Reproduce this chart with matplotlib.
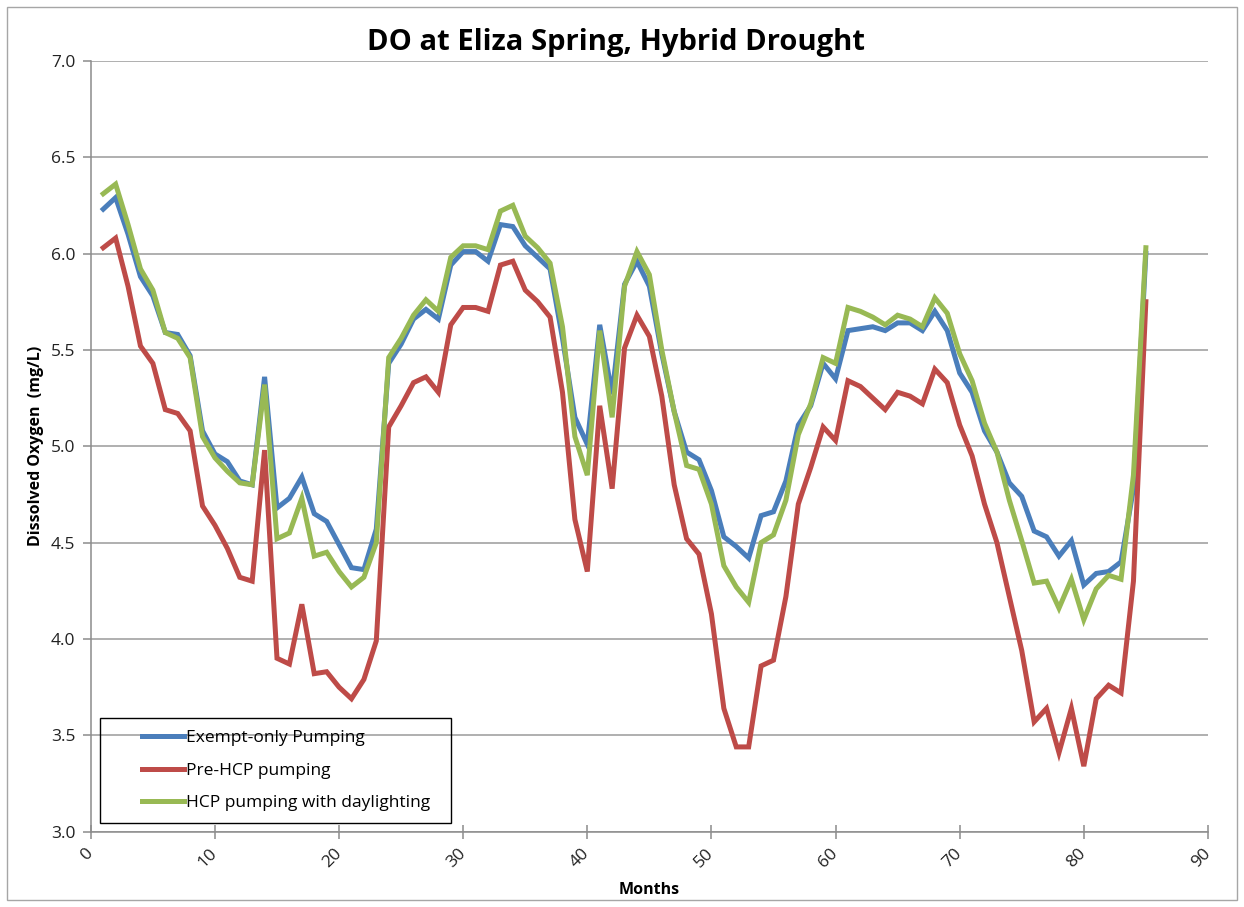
import numpy as np
import matplotlib
matplotlib.use("Agg")
import matplotlib.pyplot as plt
from matplotlib.patches import Rectangle

# monthly dissolved oxygen
months = list(range(1, 86))

exempt_only = [6.23, 6.29, 6.10, 5.88, 5.78, 5.59, 5.58, 5.47, 5.08, 4.96,
               4.92, 4.82, 4.80, 5.36, 4.68, 4.73, 4.84, 4.65, 4.61, 4.49,
               4.37, 4.36, 4.57, 5.43, 5.53, 5.66, 5.71, 5.66, 5.94, 6.01,
               6.01, 5.96, 6.15, 6.14, 6.04, 5.98, 5.92, 5.56, 5.15, 5.01,
               5.63, 5.27, 5.84, 5.96, 5.83, 5.48, 5.18, 4.97, 4.93, 4.77,
               4.53, 4.48, 4.42, 4.64, 4.66, 4.82, 5.11, 5.21, 5.43, 5.35,
               5.60, 5.61, 5.62, 5.60, 5.64, 5.64, 5.60, 5.70, 5.60, 5.38,
               5.28, 5.08, 4.97, 4.81, 4.74, 4.56, 4.53, 4.43, 4.51, 4.28,
               4.34, 4.35, 4.40, 4.78, 6.00]

pre_hcp = [6.03, 6.08, 5.83, 5.52, 5.43, 5.19, 5.17, 5.08, 4.69, 4.59,
           4.47, 4.32, 4.30, 4.98, 3.90, 3.87, 4.18, 3.82, 3.83, 3.75,
           3.69, 3.79, 3.99, 5.10, 5.21, 5.33, 5.36, 5.28, 5.63, 5.72,
           5.72, 5.70, 5.94, 5.96, 5.81, 5.75, 5.67, 5.28, 4.62, 4.35,
           5.21, 4.78, 5.51, 5.68, 5.57, 5.26, 4.80, 4.52, 4.44, 4.13,
           3.64, 3.44, 3.44, 3.86, 3.89, 4.22, 4.70, 4.89, 5.10, 5.03,
           5.34, 5.31, 5.25, 5.19, 5.28, 5.26, 5.22, 5.40, 5.33, 5.11,
           4.95, 4.70, 4.50, 4.22, 3.94, 3.57, 3.64, 3.41, 3.64, 3.34,
           3.69, 3.76, 3.72, 4.30, 5.75]

hcp_daylight = [6.31, 6.36, 6.15, 5.92, 5.81, 5.59, 5.56, 5.46, 5.05, 4.94,
                4.87, 4.81, 4.80, 5.32, 4.52, 4.55, 4.73, 4.43, 4.45, 4.35,
                4.27, 4.32, 4.50, 5.46, 5.56, 5.68, 5.76, 5.70, 5.98, 6.04,
                6.04, 6.02, 6.22, 6.25, 6.09, 6.03, 5.95, 5.62, 5.05, 4.85,
                5.60, 5.15, 5.83, 6.01, 5.89, 5.50, 5.18, 4.90, 4.88, 4.70,
                4.38, 4.27, 4.19, 4.50, 4.54, 4.72, 5.06, 5.22, 5.46, 5.43,
                5.72, 5.70, 5.67, 5.63, 5.68, 5.66, 5.62, 5.77, 5.69, 5.48,
                5.34, 5.12, 4.97, 4.72, 4.51, 4.29, 4.30, 4.16, 4.31, 4.10,
                4.26, 4.33, 4.31, 4.85, 6.03]

labels = ["Exempt-only Pumping", "Pre-HCP pumping", "HCP pumping with daylighting"]
colors = ["#4a7ebb", "#be4b48", "#98b954"]

plt.rcParams['font.family'] = ['Open Sans', 'DejaVu Sans']

fig = plt.figure(figsize=(12.44, 9.07), dpi=100)
ax = fig.add_axes([0.073, 0.083, 0.898, 0.850])

for series, lab, col in zip([exempt_only, pre_hcp, hcp_daylight], labels, colors):
    ax.plot(months, series, color=col, lw=3.6, label=lab, solid_joinstyle='miter')

ax.set_xlim(0, 90)
ax.set_ylim(3.0, 7.0)
ax.set_xticks(np.arange(0, 91, 10))
ax.set_yticks(np.arange(3.0, 7.01, 0.5))
ax.set_yticklabels(["%.1f" % v for v in np.arange(3.0, 7.01, 0.5)])
ax.yaxis.grid(True, color="#9a9a9a", lw=1.1)
ax.set_axisbelow(True)
for s in ["top", "right"]:
    ax.spines[s].set_visible(False)
for s in ["left", "bottom"]:
    ax.spines[s].set_color("#8c8c8c")
    ax.spines[s].set_linewidth(1.1)
ax.tick_params(axis='y', colors="#8c8c8c", length=6, width=1.1, labelsize=12.5,
               labelcolor="#222222", pad=5)
ax.tick_params(axis='x', colors="#8c8c8c", direction='inout', length=10, width=1.1,
               labelsize=12.5, labelcolor="#222222", pad=9)
plt.setp(ax.get_xticklabels(), rotation=45, ha='right', va='center', rotation_mode='anchor')

# title sits centred on the whole figure, not on the plot area
fig.text(0.495, 0.953, "DO at Eliza Spring, Hybrid Drought", fontsize=21,
         fontweight='bold', ha='center', va='center')
ax.set_xlabel("Months", fontsize=11.5, fontweight='bold', labelpad=8)
ax.set_ylabel("Dissolved Oxygen  (mg/L)", fontsize=11.5, fontweight='bold', labelpad=5)

leg = ax.legend(loc='lower left', bbox_to_anchor=(0.032, 0.006), frameon=False,
                fontsize=12.5, handlelength=2.4, handletextpad=0.1, labelspacing=0.95)
ax.add_patch(Rectangle((0.008, 0.011), 0.314, 0.137, transform=ax.transAxes,
                       fill=False, edgecolor='black', lw=1.0, zorder=5))

fig.patches.append(Rectangle((0.006, 0.008), 0.988, 0.984, transform=fig.transFigure,
                             fill=False, edgecolor="#a6a6a6", lw=1.0))

fig.savefig("out.png", dpi=100)
